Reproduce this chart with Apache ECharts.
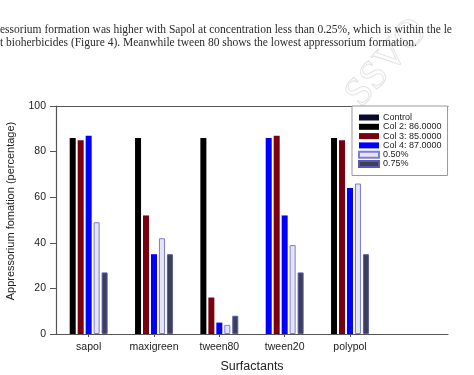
<!DOCTYPE html>
<html><head><meta charset="utf-8">
<script src="https://cdn.jsdelivr.net/npm/echarts@6/dist/echarts.min.js"></script>
<style>html,body{margin:0;padding:0;background:#fff}#c{width:474px;height:375px}</style>
</head><body><div id="c"></div>
<script>
const categories = ['sapol', 'maxigreen', 'tween80', 'tween20', 'polypol', ''];
const seriesNames = ['Control', 'Col 2: 86.0000', 'Col 3: 85.0000', 'Col 4: 87.0000', '0.50%', '0.75%'];
const col2 = [86, 86, 86, 86, 86];
const col3 = [85, 52, 16, 87, 85];
const col4 = [87, 35, 5, 52, 64];
const conc050 = [49, 42, 4, 39, 66];
const conc075 = [27, 35, 8, 27, 35];
const yTicks = [0, 20, 40, 60, 80, 100];
const textLine1 = 'essorium formation was higher with Sapol at concentration less than 0.25%, which is within the le';
const textLine2 = 't bioherbicides (Figure 4). Meanwhile tween 80 shows the lowest appressorium formation.';

const chart = echarts.init(document.getElementById('c'), null, {renderer: 'canvas'});
const barBase = {type: 'bar', barWidth: 6, barGap: '33%', xAxisIndex: 0, yAxisIndex: 0};
const col2Data = col2.map((v, i) => i === 3 ? {value: v, itemStyle: {color: '#0000ff'}} : v);
chart.setOption({
  animation: false,
  backgroundColor: '#fff',
  graphic: [
    {type: 'text', left: 0, top: 23.5, style: {text: textLine1, font: '11.5px "Liberation Serif", serif', fill: '#2a2a2a'}},
    {type: 'text', left: 0, top: 37, style: {text: textLine2, font: '11.5px "Liberation Serif", serif', fill: '#2a2a2a'}},
    {type: 'text', x: 338, y: 88, rotation: 0.85, style: {text: 'SSVO', font: '40px "Liberation Serif", serif', fill: 'rgba(0,0,0,0)', stroke: 'rgba(150,150,150,0.28)', lineWidth: 1}}
  ],
  grid: {left: 56, right: 26, top: 106, bottom: 41, containLabel: false, outerBoundsMode: 'none'},
  legend: {
    orient: 'vertical', left: 352, top: 106,
    data: seriesNames.map((n, i) => i === 0 ? {name: n, icon: 'rect', itemStyle: {color: '#0a0a2e', opacity: 1}} : {name: n, icon: 'rect'}),
    itemWidth: 20, itemHeight: 6, itemGap: 0.3,
    padding: [7, 6, 7, 6],
    borderColor: '#999', borderWidth: 1, backgroundColor: '#fff',
    textStyle: {fontFamily: 'Liberation Sans, Arial', fontSize: 9, lineHeight: 8, color: '#222', padding: [0, 0, 0, -1]}
  },
  xAxis: [{
    type: 'category', data: categories, position: 'bottom',
    name: 'Surfactants', nameLocation: 'middle', nameGap: 26,
    nameTextStyle: {fontFamily: 'Liberation Sans, Arial', fontSize: 12.5, color: '#222'},
    axisLine: {lineStyle: {color: '#555', width: 1.2}},
    axisTick: {show: true, alignWithLabel: true, length: 3, interval: (i) => i < 5, lineStyle: {color: '#555'}},
    axisLabel: {fontFamily: 'Liberation Sans, Arial', fontSize: 10.5, color: '#222', margin: 8, interval: 0},
    splitLine: {show: false}
  }, {
    type: 'category', data: categories, position: 'top',
    axisLine: {lineStyle: {color: '#555', width: 1.2}},
    axisTick: {show: false}, axisLabel: {show: false}, splitLine: {show: false}
  }],
  yAxis: {
    type: 'value', min: yTicks[0], max: yTicks[yTicks.length - 1], interval: 20,
    name: 'Appressorium fomation (percentage)', nameLocation: 'middle', nameGap: 40,
    nameTextStyle: {fontFamily: 'Liberation Sans, Arial', fontSize: 11, color: '#222', padding: [0, 0, 0, 18]},
    axisLine: {show: true, lineStyle: {color: '#555', width: 1.2}},
    axisTick: {show: true, length: 6, lineStyle: {color: '#555'}},
    axisLabel: {fontFamily: 'Liberation Sans, Arial', fontSize: 10.5, color: '#222', margin: 10},
    splitLine: {show: false}
  },
  series: [
    {name: seriesNames[0], type: 'scatter', data: [], itemStyle: {color: '#0a0a2e', opacity: 1}},
    Object.assign({}, barBase, {name: seriesNames[1], data: col2Data, itemStyle: {color: '#000000'}}),
    Object.assign({}, barBase, {name: seriesNames[2], data: col3, itemStyle: {color: '#7a0010'}}),
    Object.assign({}, barBase, {name: seriesNames[3], data: col4, itemStyle: {color: '#0000ff'}}),
    Object.assign({}, barBase, {name: seriesNames[4], data: conc050, itemStyle: {color: '#e4e4f4', borderColor: '#7d7dd6', borderWidth: 1}}),
    Object.assign({}, barBase, {name: seriesNames[5], data: conc075, itemStyle: {color: '#3c3f5c', borderColor: '#5a5aa8', borderWidth: 1}})
  ]
});
</script></body></html>
